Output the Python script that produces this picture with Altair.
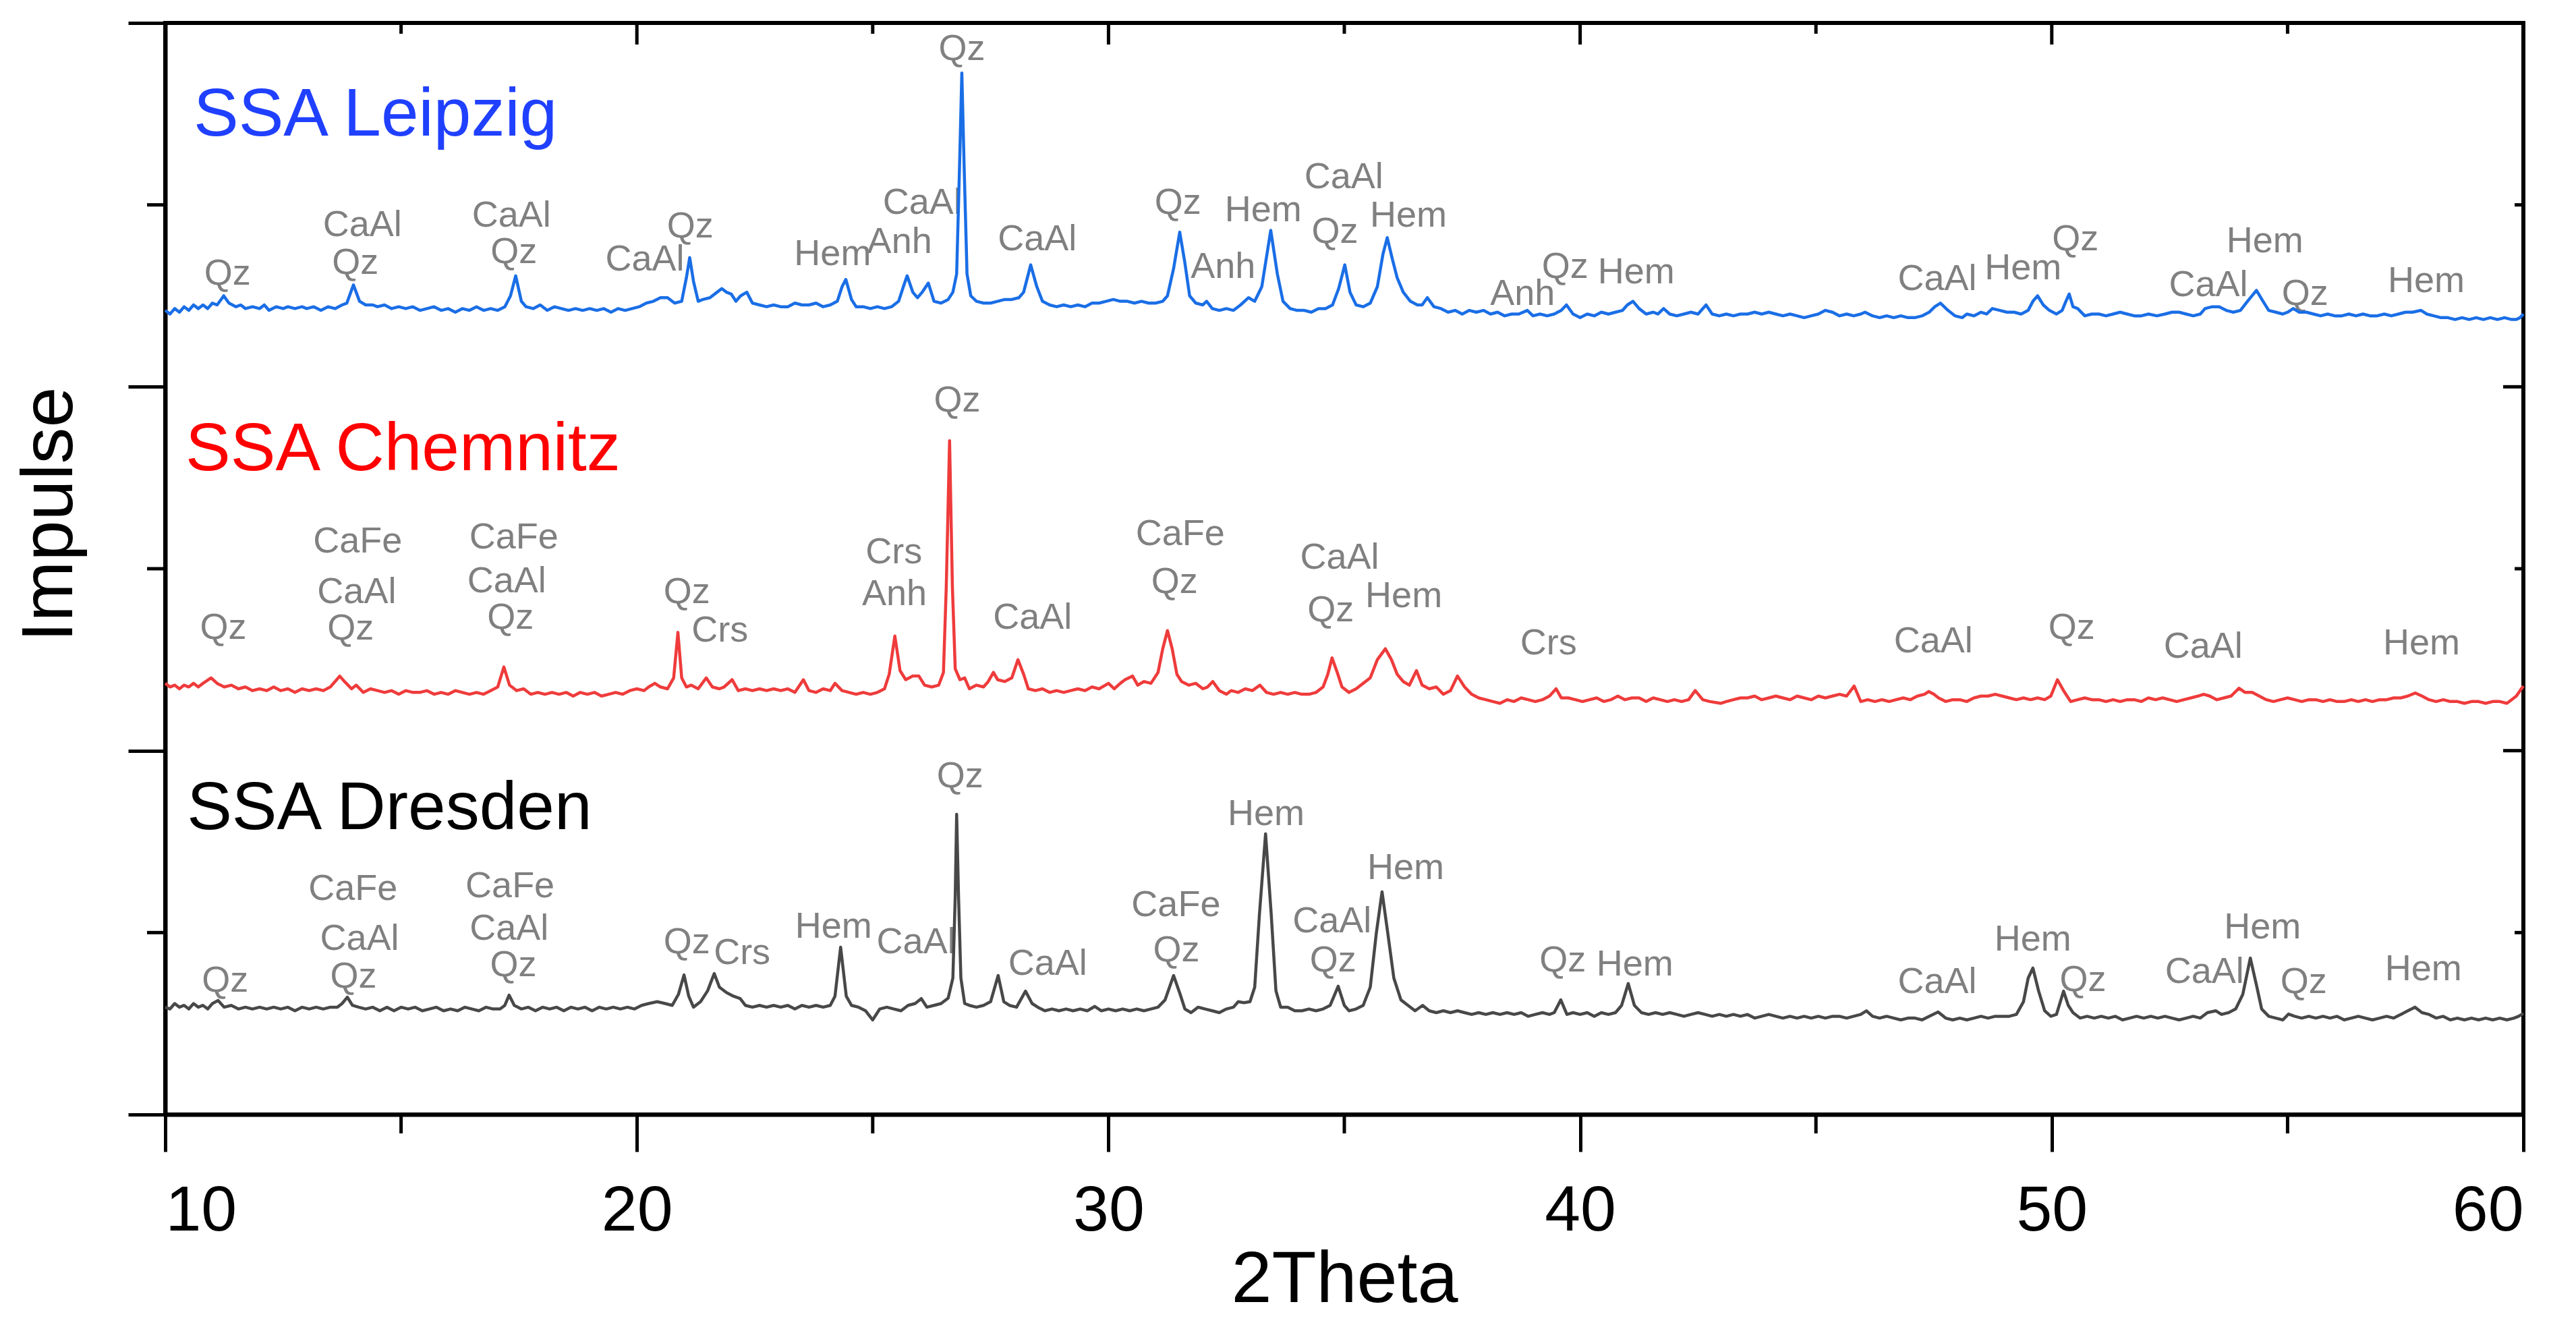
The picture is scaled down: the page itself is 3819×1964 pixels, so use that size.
import altair as alt
import pandas as pd

# ---------------- data ----------------
LEIPZIG = [
    (10.0, 4.42), (10.1, 4.40), (10.2, 4.43), (10.3, 4.41), (10.4, 4.44), (10.5, 4.42), (10.6, 4.45),
    (10.7, 4.43), (10.8, 4.45), (10.9, 4.43), (11.0, 4.46), (11.1, 4.45), (11.24, 4.50), (11.35, 4.46),
    (11.5, 4.44), (11.6, 4.45), (11.7, 4.43), (11.85, 4.44), (12.0, 4.43), (12.1, 4.45), (12.2, 4.42),
    (12.35, 4.44), (12.5, 4.43), (12.6, 4.44), (12.75, 4.43), (12.9, 4.44), (13.0, 4.43), (13.15, 4.44),
    (13.3, 4.42), (13.45, 4.44), (13.6, 4.43), (13.75, 4.45), (13.85, 4.46), (13.99, 4.56), (14.12, 4.47),
    (14.25, 4.45), (14.4, 4.45), (14.5, 4.44), (14.65, 4.45), (14.8, 4.43), (14.95, 4.44), (15.1, 4.43),
    (15.25, 4.44), (15.4, 4.42), (15.55, 4.43), (15.7, 4.44), (15.85, 4.42), (16.0, 4.43), (16.15, 4.41),
    (16.3, 4.43), (16.45, 4.42), (16.6, 4.44), (16.75, 4.42), (16.9, 4.43), (17.05, 4.42), (17.2, 4.44),
    (17.32, 4.50), (17.43, 4.61), (17.55, 4.47), (17.65, 4.44), (17.8, 4.43), (17.95, 4.45), (18.1, 4.42),
    (18.25, 4.44), (18.4, 4.43), (18.55, 4.42), (18.7, 4.43), (18.85, 4.42), (19.0, 4.43), (19.15, 4.42),
    (19.3, 4.43), (19.45, 4.41), (19.6, 4.43), (19.75, 4.42), (19.9, 4.43), (20.05, 4.44), (20.2, 4.46),
    (20.35, 4.47), (20.5, 4.49), (20.65, 4.49), (20.8, 4.46), (20.95, 4.47), (21.05, 4.60), (21.12, 4.71),
    (21.2, 4.58), (21.3, 4.47), (21.4, 4.48), (21.55, 4.49), (21.7, 4.52), (21.8, 4.54), (21.9, 4.52),
    (22.0, 4.51), (22.1, 4.47), (22.2, 4.50), (22.33, 4.52), (22.45, 4.46), (22.6, 4.45), (22.75, 4.44),
    (22.9, 4.45), (23.05, 4.44), (23.2, 4.44), (23.35, 4.46), (23.5, 4.45), (23.65, 4.45), (23.8, 4.46),
    (23.95, 4.44), (24.1, 4.45), (24.25, 4.47), (24.35, 4.55), (24.43, 4.59), (24.55, 4.48), (24.65, 4.44),
    (24.8, 4.44), (24.95, 4.43), (25.1, 4.44), (25.25, 4.43), (25.4, 4.44), (25.55, 4.47), (25.65, 4.55),
    (25.73, 4.61), (25.85, 4.52), (25.95, 4.49), (26.05, 4.52), (26.18, 4.57), (26.3, 4.47), (26.45, 4.46),
    (26.6, 4.48), (26.7, 4.52), (26.78, 4.62), (26.84, 5.20), (26.89, 5.725), (26.94, 5.20), (27.0, 4.62),
    (27.08, 4.50), (27.2, 4.47), (27.35, 4.46), (27.5, 4.46), (27.65, 4.47), (27.8, 4.48), (27.95, 4.48),
    (28.1, 4.49), (28.2, 4.52), (28.35, 4.67), (28.48, 4.55), (28.6, 4.47), (28.75, 4.45), (28.9, 4.44),
    (29.05, 4.45), (29.2, 4.44), (29.35, 4.45), (29.5, 4.44), (29.65, 4.46), (29.8, 4.46), (29.95, 4.47),
    (30.1, 4.48), (30.25, 4.47), (30.4, 4.47), (30.55, 4.46), (30.7, 4.47), (30.85, 4.46), (31.0, 4.46),
    (31.15, 4.47), (31.25, 4.50), (31.38, 4.65), (31.51, 4.85), (31.62, 4.68), (31.72, 4.50), (31.85, 4.46),
    (32.0, 4.45), (32.08, 4.47), (32.2, 4.43), (32.35, 4.42), (32.5, 4.43), (32.65, 4.42), (32.8, 4.45),
    (32.97, 4.49), (33.1, 4.47), (33.25, 4.55), (33.44, 4.86), (33.58, 4.62), (33.7, 4.47), (33.85, 4.43),
    (34.0, 4.42), (34.15, 4.42), (34.3, 4.41), (34.45, 4.43), (34.6, 4.43), (34.75, 4.45), (34.88, 4.54),
    (35.01, 4.67), (35.12, 4.52), (35.25, 4.45), (35.4, 4.44), (35.55, 4.46), (35.7, 4.55), (35.82, 4.73),
    (35.91, 4.82), (36.02, 4.70), (36.12, 4.60), (36.25, 4.52), (36.4, 4.47), (36.55, 4.45), (36.65, 4.45),
    (36.76, 4.49), (36.9, 4.44), (37.05, 4.43), (37.2, 4.41), (37.35, 4.42), (37.5, 4.40), (37.65, 4.42),
    (37.8, 4.41), (37.95, 4.42), (38.1, 4.40), (38.25, 4.41), (38.4, 4.39), (38.55, 4.40), (38.7, 4.40),
    (38.88, 4.42), (39.0, 4.39), (39.15, 4.40), (39.3, 4.39), (39.45, 4.40), (39.6, 4.42), (39.71, 4.45),
    (39.85, 4.40), (40.0, 4.38), (40.15, 4.40), (40.3, 4.39), (40.45, 4.41), (40.6, 4.40), (40.75, 4.41),
    (40.9, 4.42), (41.0, 4.45), (41.12, 4.47), (41.25, 4.43), (41.4, 4.40), (41.55, 4.41), (41.65, 4.40),
    (41.77, 4.43), (41.9, 4.40), (42.05, 4.39), (42.2, 4.40), (42.35, 4.41), (42.5, 4.40), (42.67, 4.45),
    (42.8, 4.40), (42.95, 4.39), (43.1, 4.40), (43.25, 4.39), (43.4, 4.40), (43.55, 4.40), (43.7, 4.41),
    (43.85, 4.40), (44.0, 4.41), (44.15, 4.40), (44.3, 4.39), (44.45, 4.40), (44.6, 4.39), (44.75, 4.38),
    (44.9, 4.39), (45.05, 4.40), (45.2, 4.42), (45.35, 4.41), (45.5, 4.39), (45.65, 4.40), (45.8, 4.39),
    (45.95, 4.40), (46.04, 4.41), (46.2, 4.39), (46.35, 4.38), (46.5, 4.39), (46.65, 4.38), (46.8, 4.39),
    (46.95, 4.38), (47.1, 4.38), (47.25, 4.39), (47.4, 4.41), (47.52, 4.44), (47.64, 4.46), (47.8, 4.42),
    (47.95, 4.39), (48.1, 4.38), (48.2, 4.40), (48.35, 4.39), (48.5, 4.41), (48.62, 4.40), (48.74, 4.43),
    (48.9, 4.42), (49.05, 4.41), (49.2, 4.41), (49.35, 4.40), (49.5, 4.42), (49.6, 4.47), (49.7, 4.50),
    (49.82, 4.45), (49.95, 4.42), (50.1, 4.40), (50.22, 4.42), (50.3, 4.47), (50.37, 4.51), (50.45, 4.44),
    (50.55, 4.43), (50.7, 4.39), (50.85, 4.40), (51.0, 4.40), (51.15, 4.39), (51.3, 4.40), (51.45, 4.41),
    (51.6, 4.40), (51.75, 4.39), (51.9, 4.39), (52.05, 4.40), (52.23, 4.39), (52.4, 4.40), (52.55, 4.41),
    (52.7, 4.41), (52.85, 4.40), (53.0, 4.39), (53.15, 4.40), (53.25, 4.43), (53.4, 4.44), (53.55, 4.44),
    (53.7, 4.42), (53.85, 4.41), (54.0, 4.42), (54.15, 4.47), (54.34, 4.53), (54.48, 4.47), (54.6, 4.42),
    (54.75, 4.41), (54.9, 4.40), (55.0, 4.41), (55.12, 4.43), (55.25, 4.41), (55.4, 4.41), (55.55, 4.40),
    (55.7, 4.39), (55.85, 4.40), (56.0, 4.39), (56.15, 4.39), (56.3, 4.40), (56.45, 4.39), (56.6, 4.40),
    (56.75, 4.39), (56.9, 4.39), (57.05, 4.40), (57.2, 4.39), (57.35, 4.40), (57.5, 4.41), (57.65, 4.41),
    (57.83, 4.42), (57.95, 4.40), (58.1, 4.39), (58.25, 4.38), (58.4, 4.38), (58.55, 4.37), (58.7, 4.38),
    (58.85, 4.37), (59.0, 4.38), (59.15, 4.37), (59.3, 4.38), (59.45, 4.37), (59.6, 4.38), (59.75, 4.37),
    (59.85, 4.37), (59.93, 4.38), (60.0, 4.40),
]

CHEMNITZ = [
    (10.0, 2.37), (10.1, 2.35), (10.2, 2.36), (10.3, 2.34), (10.4, 2.36), (10.5, 2.35), (10.6, 2.37),
    (10.7, 2.35), (10.8, 2.37), (10.97, 2.40), (11.1, 2.37), (11.25, 2.35), (11.4, 2.36), (11.55, 2.34),
    (11.7, 2.35), (11.85, 2.33), (12.0, 2.34), (12.15, 2.33), (12.3, 2.35), (12.45, 2.33), (12.6, 2.34),
    (12.75, 2.32), (12.9, 2.34), (13.05, 2.33), (13.2, 2.34), (13.35, 2.33), (13.5, 2.35), (13.6, 2.38),
    (13.7, 2.41), (13.8, 2.38), (13.95, 2.34), (14.05, 2.36), (14.2, 2.32), (14.35, 2.34), (14.5, 2.33),
    (14.65, 2.32), (14.8, 2.33), (14.95, 2.31), (15.1, 2.33), (15.25, 2.32), (15.4, 2.32), (15.55, 2.33),
    (15.7, 2.31), (15.85, 2.32), (16.0, 2.31), (16.15, 2.33), (16.3, 2.32), (16.45, 2.31), (16.6, 2.32),
    (16.75, 2.31), (16.9, 2.33), (17.05, 2.35), (17.18, 2.46), (17.3, 2.36), (17.45, 2.33), (17.6, 2.34),
    (17.75, 2.31), (17.9, 2.32), (18.05, 2.31), (18.2, 2.32), (18.35, 2.31), (18.5, 2.32), (18.65, 2.30),
    (18.8, 2.32), (18.95, 2.31), (19.1, 2.32), (19.25, 2.30), (19.4, 2.31), (19.55, 2.32), (19.7, 2.31),
    (19.85, 2.33), (20.0, 2.34), (20.15, 2.33), (20.25, 2.35), (20.38, 2.37), (20.5, 2.35), (20.65, 2.34),
    (20.78, 2.40), (20.87, 2.65), (20.95, 2.40), (21.05, 2.35), (21.15, 2.36), (21.3, 2.34), (21.47, 2.40),
    (21.6, 2.35), (21.75, 2.34), (21.85, 2.35), (22.02, 2.39), (22.15, 2.33), (22.3, 2.34), (22.45, 2.33),
    (22.6, 2.34), (22.75, 2.33), (22.9, 2.34), (23.05, 2.33), (23.2, 2.34), (23.35, 2.32), (23.53, 2.39),
    (23.65, 2.33), (23.8, 2.32), (23.95, 2.34), (24.1, 2.33), (24.2, 2.37), (24.35, 2.33), (24.5, 2.32),
    (24.65, 2.31), (24.8, 2.32), (24.95, 2.31), (25.1, 2.32), (25.25, 2.34), (25.35, 2.42), (25.47, 2.63),
    (25.58, 2.44), (25.7, 2.39), (25.85, 2.41), (25.98, 2.41), (26.1, 2.36), (26.25, 2.35), (26.4, 2.36),
    (26.5, 2.43), (26.56, 2.90), (26.63, 3.704), (26.69, 2.90), (26.75, 2.45), (26.85, 2.39), (26.95, 2.40),
    (27.05, 2.34), (27.2, 2.36), (27.35, 2.35), (27.45, 2.38), (27.56, 2.43), (27.65, 2.39), (27.8, 2.38),
    (27.95, 2.40), (28.08, 2.50), (28.2, 2.42), (28.3, 2.34), (28.45, 2.33), (28.6, 2.34), (28.75, 2.32),
    (28.9, 2.33), (29.05, 2.32), (29.2, 2.33), (29.35, 2.34), (29.5, 2.33), (29.65, 2.35), (29.8, 2.34),
    (30.0, 2.37), (30.12, 2.34), (30.25, 2.37), (30.35, 2.39), (30.51, 2.41), (30.62, 2.36), (30.75, 2.38),
    (30.9, 2.37), (31.05, 2.43), (31.15, 2.56), (31.25, 2.66), (31.35, 2.56), (31.45, 2.42), (31.55, 2.38),
    (31.7, 2.36), (31.85, 2.37), (32.0, 2.34), (32.1, 2.35), (32.21, 2.38), (32.35, 2.33), (32.5, 2.31),
    (32.6, 2.33), (32.75, 2.32), (32.9, 2.34), (33.05, 2.33), (33.21, 2.36), (33.35, 2.32), (33.5, 2.31),
    (33.65, 2.32), (33.8, 2.31), (33.95, 2.32), (34.1, 2.31), (34.25, 2.31), (34.4, 2.32), (34.55, 2.35),
    (34.65, 2.42), (34.74, 2.51), (34.85, 2.43), (34.95, 2.35), (35.1, 2.32), (35.25, 2.34), (35.4, 2.37),
    (35.55, 2.40), (35.7, 2.50), (35.87, 2.56), (36.0, 2.50), (36.12, 2.42), (36.25, 2.38), (36.38, 2.36),
    (36.53, 2.44), (36.65, 2.36), (36.8, 2.34), (36.95, 2.35), (37.1, 2.31), (37.25, 2.33), (37.4, 2.41),
    (37.55, 2.35), (37.7, 2.31), (37.85, 2.29), (38.0, 2.28), (38.15, 2.27), (38.3, 2.26), (38.45, 2.28),
    (38.6, 2.27), (38.75, 2.29), (38.9, 2.28), (39.05, 2.27), (39.2, 2.28), (39.35, 2.30), (39.49, 2.34),
    (39.6, 2.29), (39.75, 2.29), (39.9, 2.28), (40.05, 2.27), (40.2, 2.28), (40.35, 2.29), (40.5, 2.27),
    (40.65, 2.28), (40.8, 2.30), (40.95, 2.28), (41.1, 2.29), (41.25, 2.29), (41.4, 2.27), (41.55, 2.29),
    (41.7, 2.28), (41.85, 2.27), (42.0, 2.28), (42.15, 2.27), (42.3, 2.28), (42.44, 2.33), (42.6, 2.28),
    (42.75, 2.27), (42.98, 2.26), (43.1, 2.27), (43.25, 2.28), (43.4, 2.29), (43.55, 2.29), (43.7, 2.30),
    (43.85, 2.28), (44.0, 2.29), (44.15, 2.30), (44.3, 2.29), (44.45, 2.28), (44.6, 2.30), (44.75, 2.29),
    (44.9, 2.28), (45.05, 2.30), (45.2, 2.29), (45.35, 2.30), (45.5, 2.31), (45.65, 2.30), (45.81, 2.355),
    (45.95, 2.27), (46.1, 2.28), (46.25, 2.27), (46.4, 2.28), (46.55, 2.27), (46.7, 2.28), (46.85, 2.29),
    (47.0, 2.28), (47.15, 2.30), (47.3, 2.31), (47.39, 2.325), (47.5, 2.31), (47.6, 2.29), (47.75, 2.27),
    (47.9, 2.28), (48.05, 2.28), (48.2, 2.27), (48.35, 2.29), (48.5, 2.30), (48.65, 2.30), (48.8, 2.31),
    (48.95, 2.30), (49.1, 2.29), (49.25, 2.28), (49.4, 2.29), (49.55, 2.28), (49.7, 2.29), (49.85, 2.28),
    (49.98, 2.30), (50.12, 2.39), (50.25, 2.33), (50.4, 2.27), (50.55, 2.28), (50.7, 2.29), (50.85, 2.28),
    (51.0, 2.28), (51.15, 2.27), (51.3, 2.28), (51.45, 2.27), (51.6, 2.28), (51.75, 2.28), (51.9, 2.27),
    (52.05, 2.29), (52.2, 2.28), (52.35, 2.29), (52.5, 2.28), (52.65, 2.27), (52.8, 2.28), (52.95, 2.29),
    (53.1, 2.30), (53.22, 2.31), (53.35, 2.30), (53.5, 2.28), (53.65, 2.29), (53.8, 2.30), (53.97, 2.343),
    (54.1, 2.32), (54.25, 2.32), (54.4, 2.30), (54.55, 2.28), (54.7, 2.27), (54.85, 2.28), (55.0, 2.29),
    (55.15, 2.28), (55.3, 2.27), (55.45, 2.28), (55.6, 2.28), (55.75, 2.27), (55.9, 2.28), (56.05, 2.27),
    (56.2, 2.27), (56.35, 2.28), (56.5, 2.27), (56.65, 2.28), (56.8, 2.27), (56.95, 2.28), (57.1, 2.28),
    (57.25, 2.29), (57.4, 2.29), (57.55, 2.30), (57.71, 2.317), (57.85, 2.30), (58.0, 2.28), (58.15, 2.27),
    (58.3, 2.28), (58.45, 2.27), (58.6, 2.27), (58.75, 2.26), (58.9, 2.27), (59.05, 2.27), (59.2, 2.26),
    (59.35, 2.27), (59.5, 2.27), (59.65, 2.26), (59.75, 2.28), (59.85, 2.30), (59.93, 2.33), (60.0, 2.355),
]

DRESDEN = [
    (10.0, 0.59), (10.1, 0.58), (10.2, 0.61), (10.3, 0.59), (10.4, 0.60), (10.5, 0.58), (10.6, 0.61),
    (10.7, 0.59), (10.8, 0.60), (10.9, 0.58), (11.0, 0.61), (11.12, 0.627), (11.25, 0.59), (11.4, 0.60),
    (11.55, 0.58), (11.7, 0.59), (11.85, 0.58), (12.0, 0.59), (12.15, 0.58), (12.3, 0.59), (12.45, 0.58),
    (12.6, 0.59), (12.75, 0.57), (12.9, 0.59), (13.05, 0.58), (13.2, 0.59), (13.35, 0.58), (13.5, 0.59),
    (13.65, 0.59), (13.75, 0.61), (13.86, 0.645), (13.97, 0.60), (14.1, 0.59), (14.25, 0.58), (14.4, 0.59),
    (14.55, 0.57), (14.7, 0.59), (14.85, 0.57), (15.0, 0.59), (15.15, 0.58), (15.3, 0.59), (15.45, 0.57),
    (15.6, 0.58), (15.75, 0.59), (15.9, 0.57), (16.05, 0.58), (16.2, 0.57), (16.35, 0.59), (16.5, 0.58),
    (16.65, 0.57), (16.8, 0.59), (16.95, 0.58), (17.1, 0.58), (17.2, 0.60), (17.29, 0.656), (17.4, 0.60),
    (17.55, 0.58), (17.7, 0.59), (17.85, 0.57), (18.0, 0.59), (18.15, 0.58), (18.3, 0.59), (18.45, 0.57),
    (18.6, 0.59), (18.75, 0.58), (18.9, 0.59), (19.05, 0.57), (19.2, 0.59), (19.35, 0.58), (19.5, 0.59),
    (19.65, 0.58), (19.8, 0.59), (19.95, 0.58), (20.1, 0.60), (20.25, 0.61), (20.43, 0.62), (20.6, 0.61),
    (20.75, 0.60), (20.88, 0.66), (21.0, 0.767), (21.1, 0.65), (21.2, 0.59), (21.35, 0.62), (21.5, 0.68),
    (21.64, 0.775), (21.75, 0.70), (21.9, 0.67), (22.05, 0.65), (22.19, 0.637), (22.3, 0.60), (22.45, 0.59),
    (22.6, 0.60), (22.75, 0.59), (22.9, 0.60), (23.05, 0.59), (23.2, 0.60), (23.35, 0.58), (23.5, 0.60),
    (23.65, 0.59), (23.8, 0.60), (23.95, 0.59), (24.1, 0.60), (24.2, 0.65), (24.32, 0.92), (24.44, 0.65),
    (24.55, 0.60), (24.7, 0.59), (24.85, 0.57), (25.0, 0.52), (25.15, 0.58), (25.3, 0.59), (25.45, 0.58),
    (25.6, 0.57), (25.75, 0.60), (25.9, 0.61), (26.03, 0.637), (26.15, 0.59), (26.3, 0.60), (26.45, 0.61),
    (26.6, 0.64), (26.7, 0.75), (26.75, 1.20), (26.78, 1.65), (26.82, 1.20), (26.87, 0.75), (26.95, 0.61),
    (27.05, 0.60), (27.2, 0.59), (27.35, 0.60), (27.5, 0.62), (27.66, 0.764), (27.78, 0.62), (27.9, 0.60),
    (28.05, 0.59), (28.24, 0.678), (28.38, 0.61), (28.5, 0.59), (28.65, 0.57), (28.8, 0.58), (28.95, 0.57),
    (29.1, 0.58), (29.25, 0.57), (29.4, 0.58), (29.55, 0.57), (29.71, 0.594), (29.85, 0.57), (30.0, 0.58),
    (30.15, 0.57), (30.3, 0.58), (30.45, 0.57), (30.6, 0.58), (30.75, 0.57), (30.9, 0.58), (31.05, 0.59),
    (31.2, 0.63), (31.38, 0.764), (31.52, 0.66), (31.62, 0.58), (31.75, 0.56), (31.9, 0.59), (32.05, 0.58),
    (32.2, 0.57), (32.35, 0.56), (32.5, 0.58), (32.65, 0.59), (32.75, 0.62), (32.87, 0.615), (33.0, 0.62),
    (33.1, 0.70), (33.2, 1.10), (33.33, 1.543), (33.45, 1.10), (33.55, 0.68), (33.65, 0.59), (33.8, 0.59),
    (33.95, 0.57), (34.1, 0.57), (34.25, 0.58), (34.4, 0.57), (34.55, 0.58), (34.7, 0.60), (34.87, 0.705),
    (35.0, 0.60), (35.1, 0.57), (35.25, 0.58), (35.4, 0.60), (35.55, 0.70), (35.68, 1.00), (35.8, 1.224),
    (35.92, 1.00), (36.05, 0.75), (36.2, 0.63), (36.35, 0.60), (36.5, 0.57), (36.66, 0.60), (36.8, 0.57),
    (36.95, 0.56), (37.1, 0.57), (37.25, 0.56), (37.4, 0.57), (37.55, 0.56), (37.7, 0.55), (37.85, 0.56),
    (38.0, 0.55), (38.15, 0.56), (38.3, 0.55), (38.45, 0.56), (38.6, 0.55), (38.75, 0.56), (38.9, 0.54),
    (39.05, 0.55), (39.2, 0.56), (39.35, 0.55), (39.45, 0.56), (39.59, 0.63), (39.72, 0.55), (39.85, 0.56),
    (40.0, 0.55), (40.15, 0.56), (40.3, 0.54), (40.45, 0.56), (40.6, 0.55), (40.75, 0.56), (40.88, 0.60),
    (41.02, 0.72), (41.15, 0.60), (41.3, 0.56), (41.45, 0.55), (41.6, 0.56), (41.75, 0.55), (41.9, 0.56),
    (42.05, 0.55), (42.2, 0.54), (42.35, 0.55), (42.5, 0.56), (42.65, 0.55), (42.8, 0.54), (42.95, 0.55),
    (43.1, 0.54), (43.25, 0.55), (43.4, 0.54), (43.55, 0.55), (43.7, 0.53), (43.85, 0.54), (44.0, 0.55),
    (44.15, 0.54), (44.3, 0.53), (44.45, 0.54), (44.6, 0.53), (44.75, 0.54), (44.9, 0.53), (45.05, 0.54),
    (45.2, 0.53), (45.35, 0.54), (45.5, 0.54), (45.65, 0.53), (45.8, 0.54), (45.95, 0.55), (46.07, 0.57),
    (46.2, 0.54), (46.35, 0.53), (46.5, 0.54), (46.65, 0.53), (46.8, 0.52), (46.95, 0.53), (47.1, 0.53),
    (47.25, 0.52), (47.4, 0.54), (47.59, 0.564), (47.75, 0.53), (47.9, 0.52), (48.05, 0.53), (48.2, 0.52),
    (48.35, 0.53), (48.5, 0.54), (48.65, 0.53), (48.8, 0.54), (48.95, 0.54), (49.1, 0.54), (49.25, 0.55),
    (49.4, 0.62), (49.5, 0.75), (49.6, 0.805), (49.72, 0.68), (49.85, 0.57), (49.98, 0.54), (50.1, 0.55),
    (50.25, 0.678), (50.35, 0.60), (50.45, 0.56), (50.6, 0.53), (50.75, 0.54), (50.9, 0.53), (51.05, 0.54),
    (51.2, 0.53), (51.35, 0.54), (51.5, 0.52), (51.65, 0.53), (51.8, 0.54), (51.95, 0.53), (52.1, 0.54),
    (52.25, 0.53), (52.4, 0.54), (52.55, 0.53), (52.7, 0.52), (52.85, 0.53), (53.0, 0.54), (53.15, 0.53),
    (53.3, 0.56), (53.48, 0.57), (53.6, 0.55), (53.75, 0.56), (53.9, 0.58), (54.05, 0.66), (54.21, 0.86),
    (54.35, 0.70), (54.45, 0.58), (54.6, 0.54), (54.75, 0.53), (54.9, 0.52), (55.02, 0.552), (55.15, 0.54),
    (55.3, 0.53), (55.45, 0.54), (55.6, 0.53), (55.75, 0.54), (55.9, 0.53), (56.05, 0.54), (56.2, 0.52),
    (56.35, 0.53), (56.5, 0.54), (56.65, 0.53), (56.8, 0.52), (56.95, 0.53), (57.1, 0.54), (57.25, 0.53),
    (57.4, 0.55), (57.55, 0.57), (57.7, 0.59), (57.85, 0.56), (58.0, 0.55), (58.15, 0.53), (58.3, 0.54),
    (58.45, 0.52), (58.6, 0.53), (58.75, 0.52), (58.9, 0.53), (59.05, 0.52), (59.2, 0.53), (59.35, 0.52),
    (59.5, 0.53), (59.65, 0.52), (59.8, 0.53), (59.9, 0.54), (60.0, 0.556),
]

SERIES_NAMES = ["SSA Leipzig", "SSA Chemnitz", "SSA Dresden"]
LINE_COLORS = ["#1a6ee6", "#ef3b3b", "#484848"]
LABEL_COLORS = ["#2040ff", "#ff0000", "#000000"]
LABEL_POS = [(10.60, 5.38), (10.43, 3.541), (10.46, 1.568)]

# phase annotations: (text, 2theta, intensity position)
PHASES = [
    # Leipzig
    ("Qz", 11.32, 4.56), ("CaAl", 14.18, 4.83), ("Qz", 14.03, 4.62), ("CaAl", 17.34, 4.88),
    ("Qz", 17.39, 4.68), ("CaAl", 20.17, 4.64), ("Qz", 21.13, 4.82), ("Hem", 24.15, 4.67),
    ("Anh", 25.57, 4.735), ("CaAl", 26.05, 4.95), ("Qz", 26.89, 5.795), ("CaAl", 28.49, 4.75),
    ("Qz", 31.47, 4.95), ("Anh", 32.43, 4.60), ("Hem", 33.28, 4.91), ("CaAl", 34.99, 5.09),
    ("Qz", 34.80, 4.79), ("Hem", 36.36, 4.88), ("Anh", 38.78, 4.45), ("Qz", 39.68, 4.60),
    ("Hem", 41.19, 4.57), ("CaAl", 47.57, 4.53), ("Hem", 49.39, 4.59), ("Qz", 50.50, 4.75),
    ("Hem", 54.52, 4.74), ("CaAl", 53.32, 4.50), ("Qz", 55.37, 4.45), ("Hem", 57.94, 4.52),
    # Chemnitz
    ("Qz", 11.23, 2.614), ("CaFe", 14.08, 3.09), ("CaAl", 14.06, 2.81), ("Qz", 13.93, 2.61),
    ("CaFe", 17.39, 3.11), ("CaAl", 17.24, 2.87), ("Qz", 17.32, 2.67), ("Qz", 21.06, 2.81),
    ("Crs", 21.76, 2.60), ("Crs", 25.45, 3.03), ("Anh", 25.46, 2.80), ("Qz", 26.79, 3.864),
    ("CaAl", 28.39, 2.67), ("CaFe", 31.52, 3.13), ("Qz", 31.40, 2.866), ("CaAl", 34.90, 3.00),
    ("Qz", 34.71, 2.71), ("Hem", 36.26, 2.79), ("Crs", 39.33, 2.53), ("CaAl", 47.49, 2.54),
    ("Qz", 50.42, 2.614), ("CaAl", 53.21, 2.51), ("Hem", 57.84, 2.53),
    # Dresden
    ("Qz", 11.27, 0.675), ("CaFe", 13.98, 1.18), ("CaAl", 14.12, 0.905), ("Qz", 13.99, 0.697),
    ("CaFe", 17.31, 1.194), ("CaAl", 17.29, 0.96), ("Qz", 17.38, 0.76), ("Qz", 21.06, 0.886),
    ("Crs", 22.23, 0.827), ("Hem", 24.17, 0.97), ("CaAl", 25.92, 0.886), ("Qz", 26.85, 1.80),
    ("CaAl", 28.71, 0.768), ("CaFe", 31.43, 1.09), ("Qz", 31.44, 0.84), ("Hem", 33.34, 1.59),
    ("CaAl", 34.74, 1.00), ("Qz", 34.76, 0.786), ("Hem", 36.30, 1.294), ("Qz", 39.63, 0.786),
    ("Hem", 41.16, 0.764), ("CaAl", 47.57, 0.667), ("Hem", 49.60, 0.90), ("Qz", 50.66, 0.68),
    ("CaAl", 53.24, 0.723), ("Hem", 54.47, 0.967), ("Qz", 55.34, 0.667), ("Hem", 57.88, 0.738),
]

X_MAJOR = [10, 20, 30, 40, 50, 60]
X_MINOR = [15, 25, 35, 45, 55]
X_MAJOR_INNER = [20, 30, 40, 50]
Y_MAJOR = [0, 2, 4, 6]
Y_MINOR = [1, 3, 5]
Y_MAJOR_INNER = [2, 4]

# ---------------- build ----------------
W, H = 3496, 1618
FONT = "Liberation Sans"

rows = []
for name, pts in zip(SERIES_NAMES, [LEIPZIG, CHEMNITZ, DRESDEN]):
    for i, (x, y) in enumerate(pts):
        rows.append({"series": name, "x": x, "y": y, "order": i})
df_lines = pd.DataFrame(rows)

df_phase = pd.DataFrame(PHASES, columns=["label", "x", "y"])
df_names = pd.DataFrame({
    "series": SERIES_NAMES,
    "x": [p[0] for p in LABEL_POS],
    "y": [p[1] for p in LABEL_POS],
})

xs = alt.Scale(domain=[10, 60], nice=False, zero=False)
ys = alt.Scale(domain=[0, 6], nice=False, zero=False)

X_AXIS = alt.Axis(
    values=X_MAJOR, title="2Theta", grid=False, format="d",
    tickSize=55, tickWidth=5, tickColor="black",
    domainWidth=6, domainColor="black",
    labelFont=FONT, labelFontSize=95, labelColor="black", labelPadding=41,
    titleFont=FONT, titleFontSize=108, titleFontWeight="normal", titleColor="black",
    titleX=W / 2, titleY=277, titleBaseline="alphabetic",
)
Y_AXIS = alt.Axis(
    values=Y_MAJOR, title="Impulse", grid=False, labels=False,
    tickSize=55, tickWidth=5, tickColor="black",
    domainWidth=6, domainColor="black",
    titleFont=FONT, titleFontSize=108, titleFontWeight="normal", titleColor="black",
    titleX=-139, titleY=728, titleBaseline="alphabetic", titleAngle=270,
)

phase_text = alt.Chart(df_phase).mark_text(
    font=FONT, fontSize=54, color="#808080", align="center", baseline="alphabetic"
).encode(
    x=alt.X("x:Q", scale=xs, axis=X_AXIS),
    y=alt.Y("y:Q", scale=ys, axis=Y_AXIS),
    text="label:N",
)

name_text = alt.Chart(df_names).mark_text(
    font=FONT, fontSize=100, align="left", baseline="alphabetic"
).encode(
    x=alt.X("x:Q", scale=xs, axis=X_AXIS),
    y=alt.Y("y:Q", scale=ys, axis=Y_AXIS),
    text="series:N",
    color=alt.Color("series:N", scale=alt.Scale(domain=SERIES_NAMES, range=LABEL_COLORS), legend=None),
)

lines = alt.Chart(df_lines).mark_line(strokeWidth=4.5, strokeJoin="round").encode(
    x=alt.X("x:Q", scale=xs, axis=X_AXIS),
    y=alt.Y("y:Q", scale=ys, axis=Y_AXIS),
    color=alt.Color("series:N", scale=alt.Scale(domain=SERIES_NAMES, range=LINE_COLORS), legend=None),
    detail="series:N",
    order="order:Q",
)


def vrule(vals, y0, y1):
    return alt.Chart(pd.DataFrame({"x": vals})).mark_rule(color="black", strokeWidth=5).encode(
        x=alt.X("x:Q", scale=xs, axis=X_AXIS), y=alt.value(y0), y2=alt.value(y1))


def hrule(vals, x0, x1):
    return alt.Chart(pd.DataFrame({"y": vals})).mark_rule(color="black", strokeWidth=5).encode(
        y=alt.Y("y:Q", scale=ys, axis=Y_AXIS), x=alt.value(x0), x2=alt.value(x1))


ticks = [
    vrule(X_MINOR, H, H + 28),          # bottom minor (outward)
    vrule(X_MAJOR_INNER, 0, 32),        # top major (inward)
    vrule(X_MINOR, 0, 16),              # top minor (inward)
    hrule(Y_MINOR, -27, 0),             # left minor (outward)
    hrule(Y_MAJOR_INNER, W - 30, W),    # right major (inward)
    hrule(Y_MINOR, W - 13, W),          # right minor (inward)
]

chart = alt.layer(phase_text, name_text, lines, *ticks).resolve_scale(color="independent").properties(
    width=W, height=H,
    autosize=alt.AutoSizeParams(type="none"),
    padding={"left": 237, "top": 26, "right": 70, "bottom": 302},
).configure_view(stroke="black", strokeWidth=6)

chart.save("out.html", embed_options={"renderer": "svg", "actions": False})
